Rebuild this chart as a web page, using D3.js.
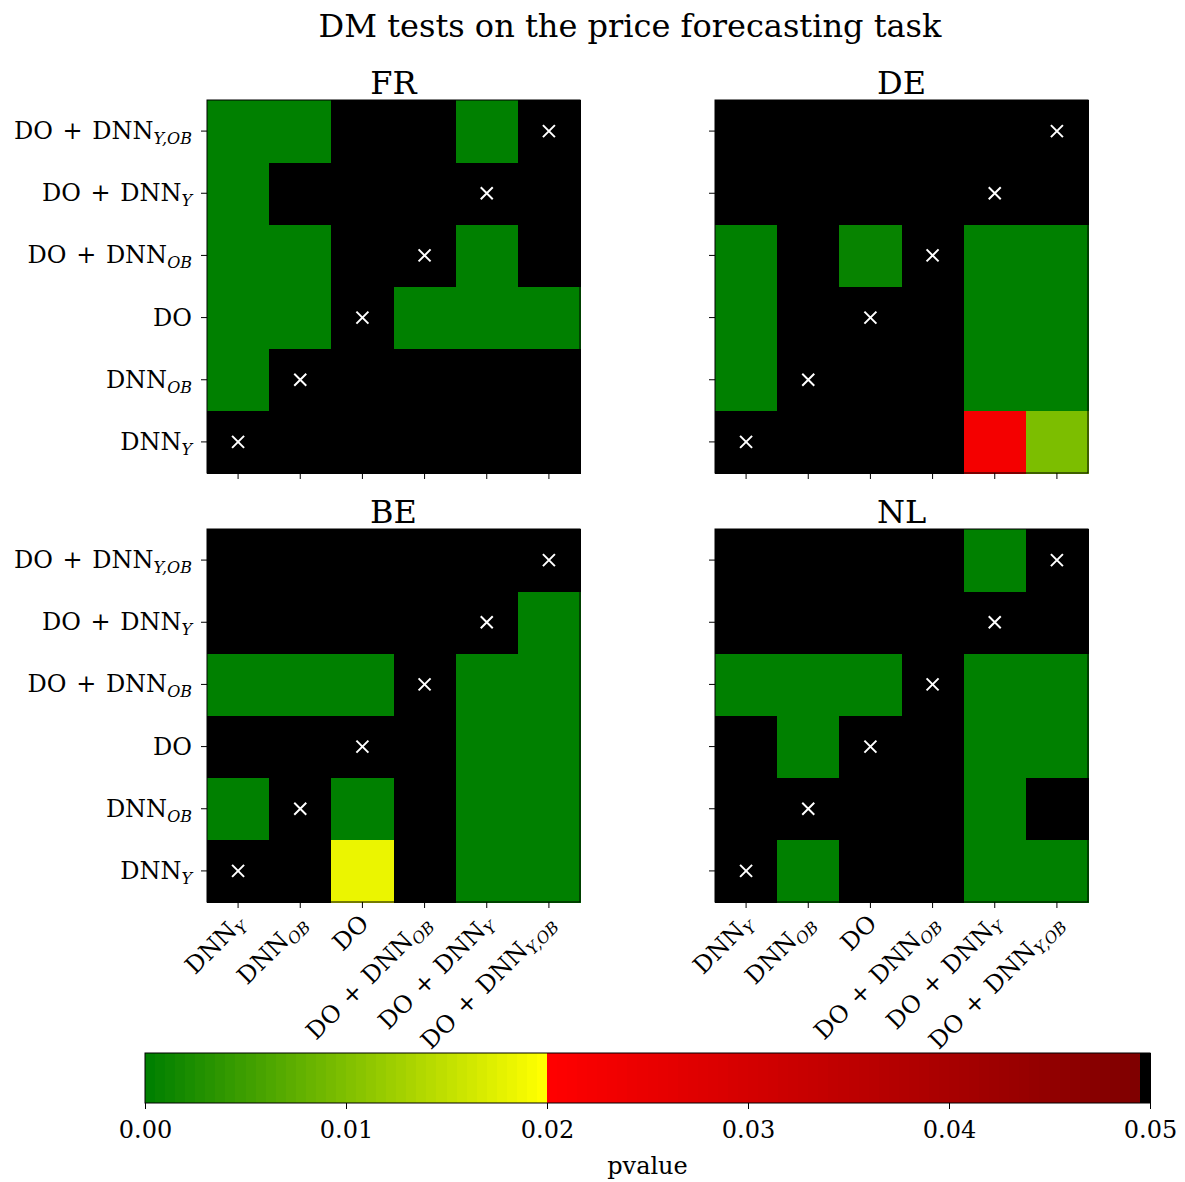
<!DOCTYPE html>
<html><head><meta charset="utf-8">
<script src="https://cdn.jsdelivr.net/npm/d3@7"></script>
<style>body{margin:0;background:#fff}svg{display:block}text{font-family:"DejaVu Serif",serif;fill:#000}</style>
</head><body><svg id="c" width="1185" height="1182"></svg>
<script>
// models: main text and subscript
const models = [["DNN","Y"],["DNN","OB"],["DO",""],["DO + DNN","OB"],["DO + DNN","Y"],["DO + DNN","Y,OB"]];
const countries = ["FR","DE","BE","NL"];
// p-values: pv[country][rowModel][colModel]; row 0 = DNN_Y (bottom row)
const pvFR = [
 [1,1,1,1,1,1],
 [0,1,1,1,1,1],
 [0,0,1,0,0,0],
 [0,0,1,1,0,1],
 [0,1,1,1,1,1],
 [0,0,1,1,0,1]];
const pvDE = [
 [1,1,1,1,0.0227,0.0097],
 [0,1,1,1,0,0],
 [0,1,1,1,0,0],
 [0,1,0.0007,1,0,0],
 [1,1,1,1,1,1],
 [1,1,1,1,1,1]];
const pvBE = [
 [1,1,0.0182,1,0,0],
 [0,1,0,1,0,0],
 [1,1,1,1,0,0],
 [0,0,0,1,0,0],
 [1,1,1,1,1,0],
 [1,1,1,1,1,1]];
const pvNL = [
 [1,0,1,1,0,0],
 [1,1,1,1,0,1],
 [1,0,1,1,0,0],
 [0,0,0,1,0,0],
 [1,1,1,1,1,1],
 [1,1,1,1,0,1]];
const pvals = {FR:pvFR, DE:pvDE, BE:pvBE, NL:pvNL};
const cbTicks = [0,0.01,0.02,0.03,0.04,0.05];

// colormap: 100 bins over [0, 0.05]
const cmapColors = [];
for (let i=0;i<40;i++){const t=i/39; cmapColors.push(d3.rgb(255*t, 255*(0.5+0.5*t), 0).toString());}
for (let k=0;k<59;k++){const r=1-0.5*k/58; cmapColors.push(d3.rgb(255*r,0,0).toString());}
cmapColors.push("rgb(0,0,0)");
const cmap = d3.scaleQuantize().domain([0,0.05]).range(cmapColors);
const colorOf = p => p>=0.05 ? cmapColors[99] : cmap(p);

const svg = d3.select("#c");
const FS = 24;
svg.append("text").attr("x",630).attr("y",37).attr("text-anchor","middle")
  .style("font-size","32px").text("DM tests on the price forecasting task");

const size = 373;
const layout = {FR:[207,100], DE:[715,100], BE:[207,529], NL:[715,529]};
const idx = d3.range(models.length);

function label(sel, m){
  sel.append("tspan").style("word-spacing","2px").text(m[0]);
  if (m[1]) sel.append("tspan").attr("font-style","italic").style("font-size","16px").attr("dy","5").text(m[1]);
}

countries.forEach((c,ci)=>{
  const [x0,y0] = layout[c];
  const g = svg.append("g").attr("transform",`translate(${x0},${y0})`);
  const xs = d3.scaleBand().domain(idx).range([0,size]);
  const ys = d3.scaleBand().domain(idx).range([size,0]);
  const data = [];
  pvals[c].forEach((row,r)=>row.forEach((v,col)=>data.push({r,col,v})));
  g.selectAll("rect.cell").data(data).join("rect").attr("class","cell")
    .attr("x",d=>xs(d.col)).attr("y",d=>ys(d.r))
    .attr("width",xs.bandwidth()+0.5).attr("height",ys.bandwidth()+0.5)
    .attr("shape-rendering","crispEdges")
    .attr("fill",d=>colorOf(d.v));
  // diagonal markers
  const ms = 6;
  idx.forEach(i=>{
    const cx = xs(i)+xs.bandwidth()/2, cy = ys(i)+ys.bandwidth()/2;
    g.append("path").attr("d",`M${cx-ms},${cy-ms}L${cx+ms},${cy+ms}M${cx-ms},${cy+ms}L${cx+ms},${cy-ms}`)
      .attr("stroke","#fff").attr("stroke-width",2);
  });
  g.append("rect").attr("width",size).attr("height",size).attr("fill","none").attr("stroke","#000").attr("stroke-width",1);
  // ticks
  idx.forEach(i=>{
    const cx = xs(i)+xs.bandwidth()/2, cy = ys(i)+ys.bandwidth()/2;
    g.append("line").attr("x1",cx).attr("x2",cx).attr("y1",size).attr("y2",size+6).attr("stroke","#000");
    g.append("line").attr("x1",-6).attr("x2",0).attr("y1",cy).attr("y2",cy).attr("stroke","#000");
    if (ci%2===0){
      const t = g.append("text").attr("x",-15).attr("y",cy+8).attr("text-anchor","end").style("font-size",FS+"px");
      label(t, models[i]);
    }
    if (ci>=2){
      const t = g.append("text").attr("transform",`translate(${cx-5},${size+10}) rotate(-45)`)
        .attr("dy","0.75em").attr("text-anchor","end").style("font-size",FS+"px");
      label(t, models[i]);
    }
  });
  g.append("text").attr("x",size/2).attr("y",-6).attr("text-anchor","middle").style("font-size","32px").text(c);
});

// colorbar
const cb = svg.append("g").attr("transform","translate(145,1053)");
const cbW = 1005, cbH = 50;
const cx = d3.scaleLinear().domain([0,0.05]).range([0,cbW]);
cb.selectAll("rect.b").data(cmapColors).join("rect").attr("class","b")
  .attr("x",(d,i)=>cx(i*0.0005)).attr("width",cx(0.0005)+0.6).attr("y",0).attr("height",cbH)
  .attr("shape-rendering","crispEdges").attr("fill",d=>d);
cb.append("rect").attr("width",cbW).attr("height",cbH).attr("fill","none").attr("stroke","#000");
const ax = d3.axisBottom(cx).tickValues(cbTicks).tickFormat(d3.format(".2f")).tickSize(6).tickPadding(12);
const axg = cb.append("g").attr("transform",`translate(0,${cbH})`).call(ax);
axg.select(".domain").remove();
axg.selectAll("text").style("font-size",FS+"px").attr("font-family","DejaVu Serif");
cb.append("text").attr("x",cbW/2).attr("y",121).attr("text-anchor","middle").style("font-size",FS+"px").text("pvalue");
</script></body></html>
